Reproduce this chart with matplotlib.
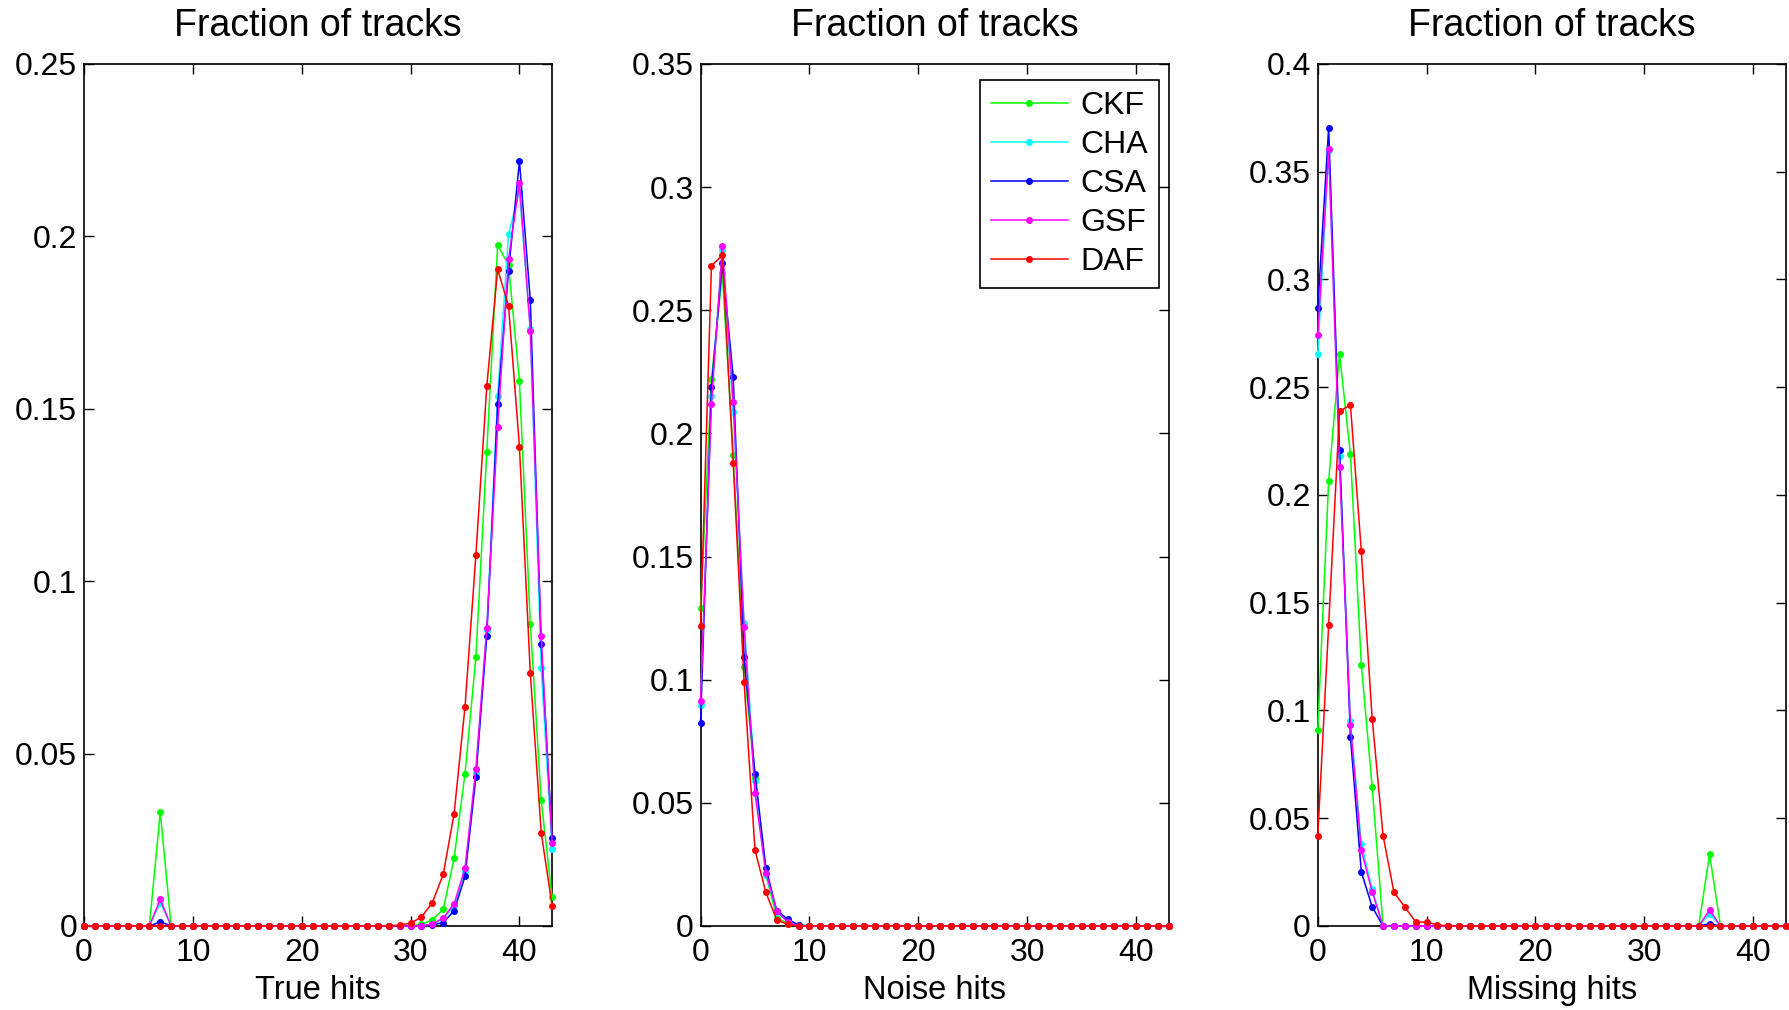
#three panels: fraction of tracks vs true / noise / missing hits
import matplotlib
matplotlib.use('Agg')
import matplotlib.pyplot as plt
import numpy as np

hits = list(range(44))

#true hits
ckf_true = [0, 0, 0, 0, 0, 0, 0, 0.033, 0, 0, 0, 0, 0, 0, 0, 0, 0, 0, 0, 0, 0, 0,
            0, 0, 0, 0, 0, 0, 0, 0, 0, 0.0005, 0.0018, 0.0048, 0.0197, 0.0442,
            0.078, 0.1376, 0.1974, 0.1917, 0.158, 0.0877, 0.0364, 0.0083]
cha_true = [0, 0, 0, 0, 0, 0, 0, 0.0068, 0, 0, 0, 0, 0, 0, 0, 0, 0, 0, 0, 0, 0, 0,
            0, 0, 0, 0, 0, 0, 0, 0, 0, 0, 0.0005, 0.002, 0.0059, 0.0158,
            0.0445, 0.0859, 0.1538, 0.2006, 0.213, 0.173, 0.0748, 0.0223]
csa_true = [0, 0, 0, 0, 0, 0, 0, 0.0012, 0, 0, 0, 0, 0, 0, 0, 0, 0, 0, 0, 0, 0, 0,
            0, 0, 0, 0, 0, 0, 0, 0, 0, 0, 0.0003, 0.001, 0.0044, 0.0144,
            0.0432, 0.0841, 0.1514, 0.190, 0.2218, 0.1814, 0.0817, 0.0255]
gsf_true = [0, 0, 0, 0, 0, 0, 0, 0.0077, 0, 0, 0, 0, 0, 0, 0, 0, 0, 0, 0, 0, 0, 0,
            0, 0, 0, 0, 0, 0, 0, 0, 0, 0, 0.0006, 0.0023, 0.0064, 0.0167,
            0.0456, 0.0865, 0.1448, 0.1935, 0.2154, 0.1726, 0.084, 0.024]
daf_true = [0, 0, 0, 0, 0, 0, 0, 0, 0, 0, 0, 0, 0, 0, 0, 0, 0, 0, 0, 0, 0, 0,
            0, 0, 0, 0, 0, 0, 0, 0.0003, 0.0008, 0.0026, 0.0068, 0.015, 0.0326,
            0.0636, 0.1076, 0.1565, 0.1904, 0.1798, 0.139, 0.0733, 0.0271, 0.0059]

#noise hits
ckf_noise = [0.1289, 0.2221, 0.265, 0.1913, 0.1051, 0.060, 0.0208, 0.0034, 0.001,
             0, 0, 0, 0, 0, 0, 0, 0, 0, 0, 0, 0, 0, 0, 0, 0, 0, 0, 0, 0, 0, 0,
             0, 0, 0, 0, 0, 0, 0, 0, 0, 0, 0, 0, 0]
cha_noise = [0.0896, 0.215, 0.2745, 0.2085, 0.1232, 0.059, 0.0208, 0.0057, 0.002,
             0.0005, 0, 0, 0, 0, 0, 0, 0, 0, 0, 0, 0, 0, 0, 0, 0, 0, 0, 0, 0, 0,
             0, 0, 0, 0, 0, 0, 0, 0, 0, 0, 0, 0, 0, 0]
csa_noise = [0.0826, 0.2187, 0.2692, 0.2228, 0.1091, 0.0619, 0.0236, 0.0062, 0.0028,
             0.0004, 0, 0, 0, 0, 0, 0, 0, 0, 0, 0, 0, 0, 0, 0, 0, 0, 0, 0, 0, 0,
             0, 0, 0, 0, 0, 0, 0, 0, 0, 0, 0, 0, 0, 0]
gsf_noise = [0.0915, 0.2121, 0.276, 0.2128, 0.1213, 0.0538, 0.0217, 0.0062, 0.0015,
             0, 0, 0, 0, 0, 0, 0, 0, 0, 0, 0, 0, 0, 0, 0, 0, 0, 0, 0, 0, 0, 0,
             0, 0, 0, 0, 0, 0, 0, 0, 0, 0, 0, 0, 0]
daf_noise = [0.1219, 0.2681, 0.2723, 0.188, 0.0989, 0.0308, 0.0136, 0.0025, 0.0006,
             0, 0, 0, 0, 0, 0, 0, 0, 0, 0, 0, 0, 0, 0, 0, 0, 0, 0, 0, 0, 0, 0,
             0, 0, 0, 0, 0, 0, 0, 0, 0, 0, 0, 0, 0]

#missing hits
ckf_miss = [0.0911, 0.2065, 0.2654, 0.219, 0.1212, 0.0645, 0, 0, 0, 0, 0, 0, 0, 0,
            0, 0, 0, 0, 0, 0, 0, 0, 0, 0, 0, 0, 0, 0, 0, 0, 0, 0, 0, 0, 0, 0,
            0.0333, 0, 0, 0, 0, 0, 0, 0]
cha_miss = [0.2652, 0.36, 0.2183, 0.0953, 0.0381, 0.0171, 0, 0, 0, 0, 0, 0, 0, 0,
            0, 0, 0, 0, 0, 0, 0, 0, 0, 0, 0, 0, 0, 0, 0, 0, 0, 0, 0, 0, 0, 0,
            0.0056, 0, 0, 0, 0, 0, 0, 0]
csa_miss = [0.2867, 0.3705, 0.2208, 0.0878, 0.0251, 0.0088, 0, 0, 0, 0, 0, 0, 0, 0,
            0, 0, 0, 0, 0, 0, 0, 0, 0, 0, 0, 0, 0, 0, 0, 0, 0, 0, 0, 0, 0, 0,
            0.001, 0, 0, 0, 0, 0, 0, 0]
gsf_miss = [0.2742, 0.3605, 0.2132, 0.0933, 0.0351, 0.0158, 0, 0, 0, 0, 0, 0, 0, 0,
            0, 0, 0, 0, 0, 0, 0, 0, 0, 0, 0, 0, 0, 0, 0, 0, 0, 0, 0, 0, 0, 0,
            0.0074, 0, 0, 0, 0, 0, 0, 0]
daf_miss = [0.0419, 0.1397, 0.2388, 0.2418, 0.1739, 0.0961, 0.0419, 0.0156, 0.0088,
            0.0018, 0.0018, 0.0005, 0, 0, 0, 0, 0, 0, 0, 0, 0, 0, 0, 0, 0, 0, 0,
            0, 0, 0, 0, 0, 0, 0, 0, 0, 0, 0, 0, 0, 0, 0, 0, 0]

names = ['CKF', 'CHA', 'CSA', 'GSF', 'DAF']
colors = ['#00ff00', '#00ffff', '#0000ff', '#ff00ff', '#ff0000']
xlabels = ['True hits', 'Noise hits', 'Missing hits']
ymaxes = [0.25, 0.35, 0.4]
yticklabels = [['0', '0.05', '0.1', '0.15', '0.2', '0.25'],
               ['0', '0.05', '0.1', '0.15', '0.2', '0.25', '0.3', '0.35'],
               ['0', '0.05', '0.1', '0.15', '0.2', '0.25', '0.3', '0.35', '0.4']]
panels = [[ckf_true, cha_true, csa_true, gsf_true, daf_true],
          [ckf_noise, cha_noise, csa_noise, gsf_noise, daf_noise],
          [ckf_miss, cha_miss, csa_miss, gsf_miss, daf_miss]]

plt.rcParams['font.family'] = ['Liberation Sans', 'DejaVu Sans']

fig = plt.figure( figsize=(17.89, 10.10), dpi=100 )
lefts = [0.047, 0.3916, 0.7366]
for i in range(3):
    ax = fig.add_axes( [lefts[i], 0.0832, 0.2616, 0.8535] )
    for j in range(5):
        ax.plot( hits, panels[i][j], color=colors[j], marker='.', markersize=8,
                 linewidth=1.1, label=names[j], clip_on=False, zorder=3 )
    ax.set_xlim( 0, 43 )
    ax.set_ylim( 0, ymaxes[i] )
    ax.set_xticks( [0, 10, 20, 30, 40] )
    ax.set_yticks( np.arange(len(yticklabels[i])) * 0.05 )
    ax.set_yticklabels( yticklabels[i] )
    ax.tick_params( direction='in', top=True, right=True, length=7, width=1,
                    labelsize=23 )
    ax.tick_params( axis='x', pad=9 )
    ax.tick_params( axis='y', pad=5 )
    for s in ax.spines.values():
        s.set_linewidth( 1.2 )
    ax.set_title( 'Fraction of tracks', fontsize=27, pad=20 )
    ax.set_xlabel( xlabels[i], fontsize=23.5, labelpad=5 )
    if i == 1:
        leg = ax.legend( loc='upper right', bbox_to_anchor=(0.980, 0.981),
                         borderaxespad=0, fontsize=23, fancybox=False,
                         framealpha=1, edgecolor='black', handlelength=2.4,
                         labelspacing=0.28, borderpad=0.35, handletextpad=0.4 )
        leg.get_frame().set_linewidth( 1.2 )
        leg.set_zorder( 5 )

fig.savefig( 'out.png', dpi=100 )
